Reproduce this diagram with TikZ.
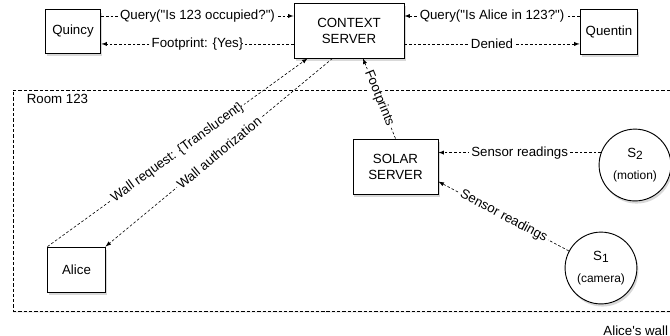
\documentclass[tikz,border=0pt]{standalone}
\usepackage{fontspec}
\setmainfont{Liberation Sans}
\usetikzlibrary{positioning,shadows}

\newcommand{\sname}[1]{S\raisebox{-0.4ex}{\small #1}}

\begin{document}
\begin{tikzpicture}[
    box/.style={rectangle, draw, line width=0.7pt, fill=white, align=center, font=\normalsize, drop shadow={opacity=0.3, shadow xshift=0.4mm, shadow yshift=-0.7mm}},
    sensor/.style={circle, draw, line width=0.7pt, fill=white, minimum size=1.9cm, inner sep=0pt, align=center, drop shadow={opacity=0.3, shadow xshift=0.4mm, shadow yshift=-0.7mm}},
    room/.style={rectangle, draw, line width=0.5pt, dash pattern=on 2.5pt off 1.5pt, fill=white, drop shadow={opacity=0.12, shadow xshift=0mm, shadow yshift=-0.6mm}},
    msg/.style={draw, line width=0.45pt, dash pattern=on 2pt off 1.5pt, -latex},
    lbl/.style={fill=white, inner sep=1.5pt, font=\normalsize},
]

\useasboundingbox (0,0) rectangle (17.727,-8.890);

% Room 123
\node[room, minimum width=17.646cm, minimum height=5.848cm] (room) at (9.167,-5.305) {};
\node[below right=0cm and 0.25cm of room.north west] (roomlbl) {Room 123};
\node[below left=0.25cm and 0.2cm of room.south east] (wall) {Alice\textquotesingle s wall};

% Outside the room
\node[box, minimum width=1.48cm, minimum height=1.14cm] (qy) at (1.931,-0.833) {Quincy};
\node[box, minimum width=2.91cm, minimum height=1.455cm] (ctx) at (9.234,-0.807) {CONTEXT\\SERVER};
\node[box, minimum width=1.53cm, minimum height=1.19cm] (qn) at (16.113,-0.833) {Quentin};

% Inside the room
\node[box, minimum width=1.51cm, minimum height=1.19cm] (alice) at (2.024,-7.131) {Alice};
\node[box, minimum width=2.25cm, minimum height=1.455cm] (solar) at (10.464,-4.405) {SOLAR\\SERVER};
\node[sensor] (s2) at (16.801,-4.366) {\sname{2}\\[5pt]{\small (motion)}};
\node[sensor] (s1) at (15.901,-7.091) {\sname{1}\\[5pt]{\small (camera)}};

% Queries
\draw[msg] ([yshift=4.1mm]qy.east) -- ([yshift=4.1mm]qy.east -| ctx.west)
    node[lbl, midway] {Query(\textquotedbl Is 123 occupied?\textquotedbl)};
\draw[msg] ([yshift=-3.3mm]qy.east -| ctx.west) -- ([yshift=-3.3mm]qy.east)
    node[lbl, midway] {Footprint: \{Yes\}};
\draw[msg] ([yshift=4.1mm]qn.west) -- ([yshift=4.1mm]qn.west -| ctx.east)
    node[lbl, midway] {Query(\textquotedbl Is Alice in 123?\textquotedbl)};
\draw[msg] ([yshift=-3.3mm]qn.west -| ctx.east) -- ([yshift=-3.3mm]qn.west)
    node[lbl, midway] {Denied};

% Wall
\draw[msg] (alice.north west) -- ([xshift=3.7mm]ctx.south west)
    node[lbl, midway, sloped] {Wall request: \{Translucent\}};
\draw[msg] ([xshift=10.3mm]ctx.south west) -- (alice.north east)
    node[lbl, midway, sloped] {Wall authorization};

% Readings
\draw[msg] (solar.north) -- ([xshift=3.7mm]ctx.south)
    node[lbl, midway, sloped] {Footprints};
\draw[msg] (s2.160) -- (solar.east |- s2.160)
    node[lbl, midway] {Sensor readings};
\draw[msg] (s1) -- ([yshift=-4mm]solar.east)
    node[lbl, midway, sloped] {Sensor readings};

\end{tikzpicture}
\end{document}
